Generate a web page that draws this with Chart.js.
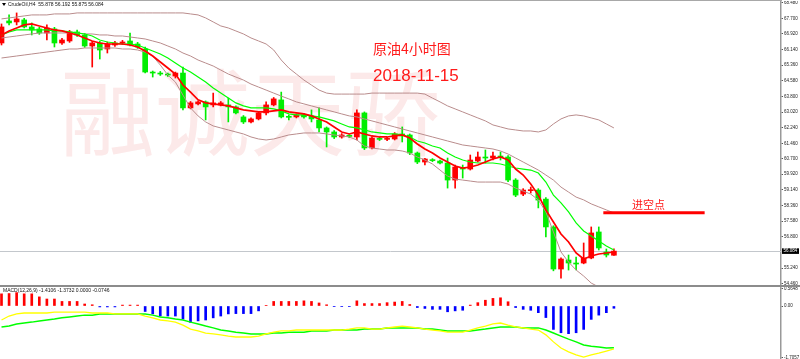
<!DOCTYPE html>
<html>
<head>
<meta charset="utf-8">
<script src="https://cdn.jsdelivr.net/npm/chart.js@4/dist/chart.umd.min.js"></script>
<style>
html,body{margin:0;padding:0;background:#fff;}
#wrap{position:relative;width:800px;height:359px;overflow:hidden;background:#fff;}
#topLine{position:absolute;left:0;top:0;width:782px;height:1px;background:#a8a8a8;}
#mainBox{position:absolute;left:0;top:1px;width:800px;height:284px;}
#sep{position:absolute;left:0;top:285px;width:800px;height:2px;background:#8c8c8c;}
#macdBox{position:absolute;left:0;top:287px;width:800px;height:72px;}
</style>
</head>
<body>
<div id="wrap">
  <div id="topLine"></div>
  <div id="mainBox"><canvas id="mainChart"></canvas></div>
  <div id="sep"></div>
  <div id="macdBox"><canvas id="macdChart"></canvas></div>
</div>
<script>
// CrudeOil H4 candles
const opens = [66.47,67.57,67.52,67.62,67.27,67.17,66.97,67.17,66.47,66.57,
  67.02,66.87,66.32,66.47,66.17,66.37,66.47,66.57,66.42,66.17,
  65.02,64.97,64.92,64.82,64.97,63.23,63.43,63.53,63.38,63.38,
  63.38,63.28,62.78,62.53,62.68,62.98,63.38,63.63,62.80,62.78,
  62.88,62.83,62.63,62.23,62.03,61.78,61.85,61.78,62.98,61.23,
  61.70,61.66,61.68,61.93,61.88,60.98,60.53,60.63,60.58,60.48,
  59.63,60.23,60.18,60.58,60.78,60.73,60.83,60.78,59.63,58.93,
  59.10,59.13,58.68,57.29,55.19,55.64,55.49,55.49,55.74,57.04,
  56.04,55.878];
const highs = [67.42,67.87,67.97,67.70,67.47,67.25,67.37,67.25,66.70,67.10,
  67.12,66.95,66.55,66.55,66.52,66.55,66.60,66.97,66.50,66.27,
  65.07,65.05,64.97,65.02,65.27,63.55,63.58,63.58,63.97,63.55,
  63.72,63.33,62.85,62.73,63.03,63.53,63.75,64.02,62.88,62.93,
  62.95,63.13,63.23,62.28,62.10,61.95,61.90,63.13,63.03,61.80,
  61.78,61.76,62.00,62.28,61.93,61.03,60.72,60.70,60.63,60.73,
  60.38,60.38,60.88,61.03,61.13,61.03,61.03,60.85,59.70,59.20,
  59.28,59.20,58.75,57.35,55.75,55.89,55.79,56.49,57.29,57.29,
  56.19,56.192];
const lows = [66.37,67.37,67.37,67.22,66.87,66.90,66.62,66.27,66.40,66.50,
  66.80,66.25,65.27,65.67,65.97,66.30,66.40,66.32,66.20,64.97,
  64.77,64.85,64.80,64.72,63.13,63.18,63.38,62.63,63.28,63.33,
  62.53,62.93,62.45,62.48,62.63,62.88,63.33,62.73,62.63,62.73,
  62.72,62.53,62.03,61.28,61.70,61.72,61.75,61.63,61.15,61.18,
  61.60,61.60,61.63,61.53,60.90,60.45,60.38,60.55,60.43,59.23,
  59.23,59.73,60.13,60.53,60.48,60.63,60.63,59.55,58.80,58.85,
  58.98,58.24,56.79,55.10,54.74,55.14,55.14,55.45,55.70,56.14,
  55.79,55.875];
const closes = [67.27,67.47,67.67,67.27,67.12,66.97,67.22,66.47,66.62,67.02,
  66.87,66.32,66.47,66.12,66.42,66.47,66.52,66.37,66.27,65.02,
  64.97,64.92,64.87,64.97,63.23,63.48,63.53,63.28,63.48,63.48,
  63.28,62.98,62.53,62.68,62.98,63.38,63.68,62.78,62.76,62.88,
  62.78,62.68,62.23,62.03,61.78,61.88,61.81,62.98,61.23,61.73,
  61.66,61.70,61.93,61.83,60.98,60.53,60.68,60.60,60.48,59.63,
  60.28,60.18,60.63,60.78,60.73,60.83,60.78,59.63,58.88,59.13,
  59.13,58.63,57.29,55.19,55.69,55.49,55.44,55.74,56.99,56.24,
  55.89,56.084];

// moving averages (red fast, green slow)
const maFast = [66.87,67.07,67.22,67.37,67.42,67.32,67.22,67.12,67.07,66.97,
  66.87,66.72,66.57,66.47,66.42,66.42,66.42,66.37,66.27,66.07,
  65.82,65.52,65.22,64.92,64.37,64.02,63.63,63.48,63.43,63.38,
  63.33,63.23,63.13,63.08,63.03,63.03,63.08,63.13,63.03,62.98,
  62.93,62.83,62.68,62.53,62.28,62.03,61.93,62.03,61.93,61.83,
  61.78,61.78,61.83,61.88,61.73,61.43,61.18,60.98,60.73,60.53,
  60.33,60.23,60.28,60.38,60.53,60.68,60.78,60.63,60.18,59.88,
  59.43,58.88,58.14,57.54,56.94,56.54,55.99,55.69,55.84,55.94,
  55.99,56.04];
const maSlow = [66.87,67.02,67.12,67.12,67.12,67.12,67.12,67.07,67.07,67.02,
  66.97,66.92,66.82,66.62,66.52,66.47,66.42,66.42,66.37,66.22,
  66.07,65.92,65.72,65.47,65.22,65.02,64.77,64.52,64.22,63.97,
  63.72,63.48,63.33,63.23,63.23,63.23,63.18,63.08,62.93,62.88,
  62.88,62.83,62.78,62.68,62.58,62.43,62.28,62.23,62.13,62.03,
  61.98,61.93,61.93,61.88,61.78,61.58,61.48,61.33,61.23,60.98,
  60.78,60.63,60.53,60.48,60.48,60.48,60.43,60.33,60.23,60.18,
  60.13,59.98,59.53,58.88,58.49,58.04,57.49,57.09,56.84,56.59,
  56.34,56.14];

// bollinger bands
const bbUpper = [67.67,67.72,67.77,67.82,67.87,67.87,67.87,67.92,67.92,67.92,
  67.97,67.97,67.97,67.97,67.97,67.97,67.97,67.97,67.97,67.97,
  67.97,67.97,67.97,67.97,67.97,67.92,67.87,67.72,67.52,67.32,
  67.22,67.07,66.92,66.72,66.57,66.42,66.12,65.62,65.22,64.92,
  64.62,64.37,64.12,63.97,63.92,63.92,63.92,63.92,63.92,63.97,
  63.97,63.97,63.97,63.97,63.97,63.97,63.92,63.72,63.53,63.33,
  63.18,63.03,62.88,62.73,62.58,62.38,62.28,62.18,62.13,62.08,
  62.08,62.03,62.13,62.43,62.68,62.83,62.88,62.83,62.73,62.63,
  62.43,62.23];
const bbMid = [66.72,66.77,66.82,66.87,66.92,66.97,66.97,66.97,66.97,66.97,
  66.97,66.92,66.92,66.87,66.87,66.82,66.82,66.77,66.72,66.67,
  66.57,66.47,66.32,66.17,65.97,65.82,65.62,65.47,65.32,65.12,
  64.92,64.77,64.62,64.42,64.27,64.12,63.97,63.82,63.68,63.53,
  63.43,63.33,63.23,63.13,63.03,62.93,62.83,62.78,62.68,62.58,
  62.48,62.38,62.28,62.18,62.08,61.98,61.88,61.78,61.68,61.58,
  61.48,61.38,61.33,61.28,61.23,61.18,61.08,60.93,60.73,60.53,
  60.33,60.13,59.88,59.63,59.28,59.03,58.78,58.64,58.44,58.29,
  58.14,57.99];
const bbLower = [65.72,65.77,65.82,65.87,65.92,65.97,66.02,66.07,66.12,66.17,
  66.17,66.22,66.22,66.22,66.22,66.22,66.17,66.17,66.12,66.02,
  65.82,65.37,64.87,64.52,63.87,63.23,62.83,62.53,62.33,62.23,
  62.13,62.03,61.93,61.78,61.68,61.63,61.68,61.78,61.88,61.93,
  61.98,61.98,61.98,61.93,61.88,61.83,61.78,61.63,61.33,61.23,
  61.18,61.13,61.13,61.08,60.98,60.78,60.63,60.43,60.13,59.83,
  59.68,59.63,59.58,59.53,59.53,59.53,59.53,59.43,59.23,59.08,
  58.93,58.64,58.04,57.04,56.04,55.54,55.14,54.84,54.49,54.29,
  54.14,53.99];

// MACD(12,26,9)
const macdHist = [0.40,0.41,0.44,0.40,0.40,0.30,0.23,0.23,0.15,0.15,
  0.15,0.066,0.04,-0.03,-0.03,-0.03,0.03,0.03,0.03,-0.18,
  -0.26,-0.33,-0.33,-0.33,-0.43,-0.54,-0.49,-0.46,-0.39,-0.33,
  -0.26,-0.25,-0.25,-0.25,-0.16,0.02,0.15,0.15,0.15,0.15,
  0.17,0.15,0.10,0.04,-0.02,-0.02,-0.02,0.17,0.08,0.08,
  0.08,0.11,0.13,0.15,0.05,-0.05,-0.08,-0.11,-0.11,-0.19,
  -0.16,-0.14,0.03,0.11,0.19,0.25,0.27,0.14,-0.05,-0.11,
  -0.14,-0.22,-0.38,-0.77,-0.88,-0.91,-0.88,-0.77,-0.44,-0.30,
  -0.22,-0.0746];
const macdDif = [-0.46,-0.33,-0.26,-0.23,-0.23,-0.23,-0.23,-0.20,-0.20,-0.20,
  -0.20,-0.20,-0.23,-0.23,-0.23,-0.26,-0.26,-0.26,-0.26,-0.33,
  -0.39,-0.46,-0.49,-0.53,-0.63,-0.76,-0.82,-0.89,-0.92,-0.95,
  -0.99,-1.02,-1.02,-1.02,-0.99,-0.92,-0.86,-0.82,-0.82,-0.79,
  -0.79,-0.79,-0.79,-0.79,-0.79,-0.79,-0.76,-0.72,-0.72,-0.76,
  -0.76,-0.72,-0.69,-0.66,-0.69,-0.72,-0.76,-0.79,-0.82,-0.86,
  -0.86,-0.86,-0.79,-0.72,-0.66,-0.59,-0.56,-0.63,-0.69,-0.72,
  -0.76,-0.79,-0.95,-1.18,-1.38,-1.51,-1.61,-1.68,-1.61,-1.55,
  -1.48,-1.4106];
const macdDea = [-0.69,-0.66,-0.59,-0.56,-0.53,-0.49,-0.46,-0.43,-0.39,-0.36,
  -0.33,-0.30,-0.30,-0.26,-0.26,-0.26,-0.26,-0.26,-0.26,-0.26,
  -0.30,-0.36,-0.39,-0.43,-0.46,-0.53,-0.59,-0.66,-0.72,-0.79,
  -0.82,-0.86,-0.89,-0.92,-0.92,-0.92,-0.89,-0.89,-0.86,-0.86,
  -0.86,-0.82,-0.82,-0.82,-0.79,-0.79,-0.79,-0.79,-0.76,-0.76,
  -0.76,-0.72,-0.72,-0.72,-0.72,-0.72,-0.76,-0.76,-0.79,-0.82,
  -0.82,-0.82,-0.82,-0.79,-0.76,-0.72,-0.69,-0.69,-0.69,-0.72,
  -0.72,-0.72,-0.79,-0.89,-0.99,-1.09,-1.18,-1.28,-1.32,-1.35,
  -1.38,-1.3732];

const priceTicks = [68.48,67.70,66.92,66.14,65.36,64.58,63.80,63.02,62.24,61.46,
  60.70,59.92,59.14,58.36,57.58,56.80,55.24,54.46];
const macdTicks = [0.5648, 0, -1.7057];
const macdTickLabels = ['0.5648', '0.00', '-1.7057'];
const lastPrice = 56.084;
const entryPrice = 58.0;
const entryFrom = 79.6, entryTo = 93;

const xMin = -0.2, xMax = 103.1;
const RED = '#ff0000', GREEN = '#00ee00', BAND = '#b98c8c';
const axisFont = {family: 'Liberation Sans', size: 4.5};

const pts = arr => arr.map((v, i) => ({x: i, y: v}));
const candleCol = closes.map((c, i) => c >= opens[i] ? RED : GREEN);
const bodies = opens.map((o, i) => ({x: i, y: [Math.min(o, closes[i]), Math.max(o, closes[i])]}));
const wicks = lows.map((l, i) => ({x: i, y: [l, highs[i]]}));

function lineSet(data, color, w) {
  return {type: 'line', data, borderColor: color, borderWidth: w, pointRadius: 0, tension: 0, fill: false};
}

const mainNotes = {
  id: 'mainNotes',
  beforeDatasetsDraw(chart) {
    const {ctx, chartArea: a, scales: {y}} = chart;
    ctx.save();
    ctx.fillStyle = '#fce9e9';
    ctx.font = '95px "Noto Sans CJK SC"';
    ctx.textBaseline = 'middle';
    ctx.fillText('融诚天骄', 60, 112);
    const py = Math.round(y.getPixelForValue(lastPrice)) + 0.5;
    ctx.strokeStyle = '#c3c7cc';
    ctx.lineWidth = 1;
    ctx.beginPath(); ctx.moveTo(a.left, py); ctx.lineTo(a.right, py); ctx.stroke();
    ctx.restore();
  },
  afterDraw(chart) {
    const {ctx, chartArea: a, scales: {y}} = chart;
    ctx.save();
    // top-left symbol info
    ctx.fillStyle = '#000';
    ctx.beginPath(); ctx.moveTo(2, 2); ctx.lineTo(6, 2); ctx.lineTo(4, 5); ctx.closePath(); ctx.fill();
    ctx.font = '5px "Liberation Sans"';
    ctx.textBaseline = 'middle';
    ctx.fillStyle = '#111';
    ctx.fillText('CrudeOil,H4  55.878 56.192 55.875 56.084', 8, 4);
    // titles
    ctx.fillStyle = '#ff1a1a';
    ctx.font = '14px "Noto Sans CJK SC"';
    ctx.fillText('原油4小时图', 373, 48);
    ctx.font = '17px "Liberation Sans"';
    ctx.fillText('2018-11-15', 373, 75);
    ctx.font = '11px "Noto Sans CJK SC"';
    ctx.fillText('进空点', 632, 204);
    // last price tag
    const py = y.getPixelForValue(lastPrice);
    ctx.fillStyle = '#000';
    ctx.fillRect(a.right + 1, py - 2.8, 17, 5.6);
    ctx.fillStyle = '#fff';
    ctx.font = '4.5px "Liberation Sans"';
    ctx.fillText(lastPrice.toFixed(3), a.right + 2.5, py);
    ctx.restore();
  }
};

new Chart(document.getElementById('mainChart'), {
  type: 'line',
  data: {
    datasets: [
      lineSet([{x: entryFrom, y: entryPrice}, {x: entryTo, y: entryPrice}], RED, 3),
      lineSet(pts(maFast), RED, 1.7),
      lineSet(pts(maSlow), '#00ff00', 1.2),
      lineSet(pts(bbUpper), BAND, 1),
      lineSet(pts(bbMid), BAND, 1),
      lineSet(pts(bbLower), BAND, 1),
      {type: 'bar', data: bodies, backgroundColor: candleCol, barThickness: 5, grouped: false, minBarLength: 1, borderWidth: 0},
      {type: 'bar', data: wicks, backgroundColor: candleCol, barThickness: 1, grouped: false, borderWidth: 0}
    ]
  },
  options: {
    responsive: true, maintainAspectRatio: false, animation: false,
    layout: {padding: 0},
    plugins: {legend: {display: false}, tooltip: {enabled: false}},
    scales: {
      x: {type: 'linear', min: xMin, max: xMax, display: false, offset: false},
      y: {
        position: 'right', min: 54.393, max: 68.565,
        afterFit(s) { s.width = 19; s.paddingTop = 0; s.paddingBottom = 0; },
        afterBuildTicks(s) { s.ticks = priceTicks.map(v => ({value: v})); },
        ticks: {font: axisFont, color: '#222', padding: 1, autoSkip: false, callback: v => v.toFixed(3)},
        grid: {drawOnChartArea: false, tickLength: 2, color: '#555'},
        border: {color: '#999', width: 1.5}
      }
    }
  },
  plugins: [mainNotes]
});

const macdNotes = {
  id: 'macdNotes',
  afterDraw(chart) {
    const {ctx} = chart;
    ctx.save();
    ctx.fillStyle = '#111';
    ctx.font = '5px "Liberation Sans"';
    ctx.textBaseline = 'middle';
    ctx.fillText('MACD(12,26,9) -1.4106 -1.3732 0.0000 -0.0746', 3, 4);
    ctx.restore();
  }
};

new Chart(document.getElementById('macdChart'), {
  type: 'line',
  data: {
    datasets: [
      lineSet(pts(macdDif), '#ffff00', 1.3),
      lineSet(pts(macdDea), '#00ff00', 1.5),
      {type: 'bar', data: pts(macdHist), backgroundColor: macdHist.map(v => v >= 0 ? RED : '#0000ff'),
       barThickness: 2, grouped: false, borderWidth: 0}
    ]
  },
  options: {
    responsive: true, maintainAspectRatio: false, animation: false,
    layout: {padding: 0},
    plugins: {legend: {display: false}, tooltip: {enabled: false}},
    scales: {
      x: {type: 'linear', min: xMin, max: xMax, display: false, offset: false},
      y: {
        position: 'right', min: -1.743, max: 0.625,
        afterFit(s) { s.width = 19; s.paddingTop = 0; s.paddingBottom = 0; },
        afterBuildTicks(s) { s.ticks = macdTicks.map(v => ({value: v})); },
        ticks: {font: axisFont, color: '#222', padding: 1, autoSkip: false,
          callback: (v, i) => macdTickLabels[i]},
        grid: {drawOnChartArea: false, tickLength: 2, color: '#555'},
        border: {color: '#999', width: 1.5}
      }
    }
  },
  plugins: [macdNotes]
});
</script>
</body>
</html>
